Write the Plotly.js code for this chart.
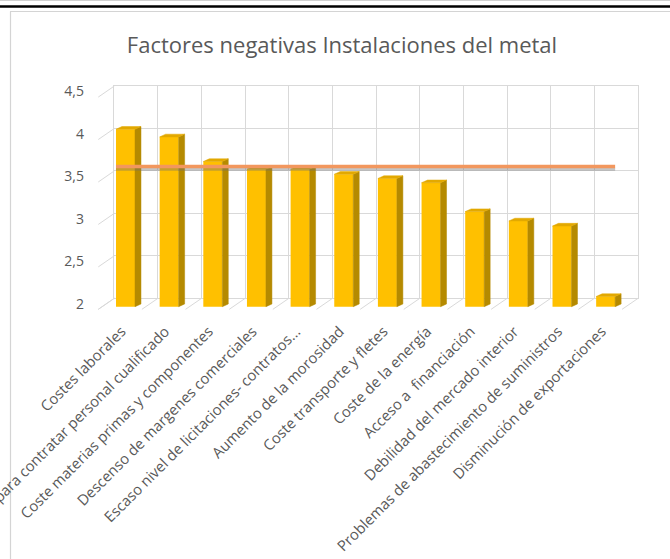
<!DOCTYPE html>
<html>
<head>
<meta charset="utf-8">
<script src="https://cdn.plot.ly/plotly-3.0.1.min.js"></script>
<style>
  html, body { margin: 0; padding: 0; background: #ffffff; }
  #chart { width: 670px; height: 559px; }
</style>
</head>
<body>
<div id="chart"></div>
<script>
// ---------- DATA ----------
const categories = [
  "Costes laborales",
  "Dificultad para contratar personal cualificado",
  "Coste materias primas y componentes",
  "Descenso de margenes comerciales",
  "Escaso nivel de licitaciones- contratos...",
  "Aumento de la morosidad",
  "Coste transporte y fletes",
  "Coste de la energía",
  "Acceso a\u00a0 financiación",
  "Debilidad del mercado interior",
  "Problemas de abastecimiento de suministros",
  "Disminución de exportaciones"
];
const values = [4.09, 4.00, 3.71, 3.62, 3.62, 3.56, 3.51, 3.46, 3.12, 3.01, 2.95, 2.12];
const referenceValue = [3.65];
const yTickValues = [2, 2.5, 3, 3.5, 4, 4.5];
const titleText = "Factores negativas Instalaciones del metal";

// ---------- STYLE / GEOMETRY (pixels -> fractions) ----------
const W = 670, H = 559;
const px = v => v / W;
const py = v => 1 - v / H;
const FONT = "'Open Sans', Lato, sans-serif";
const TXT = "#595959";
const GRID = "#d9d9d9";
const FLOOR = yTickValues[0];

const barWidth = 0.435;          // category units
const hw = barWidth / 2;
const sideDx = 0.137, sideDy = 0.032;     // 3D depth of each column
const backDx = 0.243, backDy = 0.099;     // bar plane -> back wall
const frontDx = -0.367, frontDy = -0.13;  // back wall -> front edge

const idx = categories.map((c, i) => i);

// side faces and top faces of the columns
const sideX = [], sideY = [], topX = [], topY = [];
values.forEach((v, i) => {
  const r = i + hw, l = i - hw;
  sideX.push(r, r, r + sideDx, r + sideDx, r, null);
  sideY.push(FLOOR, v, v + sideDy, FLOOR + sideDy, FLOOR, null);
  topX.push(l, r, r + sideDx, l + sideDx, l, null);
  topY.push(v, v, v + sideDy, v + sideDy, v, null);
});

// floor and side-wall diagonals (perspective grid)
const diagX = [], diagY = [];
for (let k = 0; k <= categories.length; k++) {
  const bx = k - 0.5 + backDx, by = FLOOR + backDy;
  diagX.push(bx, bx + frontDx, null);
  diagY.push(by, by + frontDy, null);
}
yTickValues.forEach(v => {
  const bx = -0.5 + backDx, by = v + backDy;
  diagX.push(bx, bx + frontDx, null);
  diagY.push(by, by + frontDy, null);
});

const lineX = [idx[0] - hw, idx[idx.length - 1] + hw];
const lineY = [referenceValue[0], referenceValue[0]];
const shadowY = lineY.map(v => v - 0.03);

const traces = [
  { type: "scatter", x: [], y: [], xaxis: "x", yaxis: "y", showlegend: false, hoverinfo: "skip" },
  { type: "scatter", mode: "lines", x: diagX, y: diagY, xaxis: "x2", yaxis: "y2",
    line: { color: GRID, width: 1 }, showlegend: false, hoverinfo: "skip" },
  { type: "bar", x: idx, y: values.map(v => v - FLOOR), base: FLOOR, width: barWidth,
    xaxis: "x2", yaxis: "y2", marker: { color: "#FFC000", line: { width: 0 } }, showlegend: false },
  { type: "scatter", mode: "lines", x: sideX, y: sideY, fill: "toself", fillcolor: "#B58A00",
    line: { color: "#B58A00", width: 0.5 }, xaxis: "x2", yaxis: "y2", showlegend: false, hoverinfo: "skip" },
  { type: "scatter", mode: "lines", x: topX, y: topY, fill: "toself", fillcolor: "#E3A900",
    line: { color: "#E3A900", width: 0.5 }, xaxis: "x2", yaxis: "y2", showlegend: false, hoverinfo: "skip" },
  { type: "scatter", mode: "lines", x: lineX, y: shadowY, xaxis: "x2", yaxis: "y2",
    line: { color: "rgba(110,110,110,0.4)", width: 3 }, showlegend: false, hoverinfo: "skip" },
  { type: "scatter", mode: "lines", x: lineX, y: lineY, xaxis: "x2", yaxis: "y2",
    line: { color: "#F2975E", width: 3.5 }, showlegend: false }
];

const layout = {
  width: W, height: H,
  margin: { l: 0, r: 0, t: 0, b: 0, pad: 0 },
  paper_bgcolor: "#ffffff",
  plot_bgcolor: "rgba(0,0,0,0)",
  separators: ",.",
  showlegend: false,
  font: { family: FONT, color: TXT, size: 13 },
  title: {
    text: titleText,
    x: px(342), xanchor: "center",
    y: py(45), yanchor: "middle", yref: "container",
    font: { family: FONT, size: 22, color: TXT }
  },
  xaxis: {
    domain: [px(114.3), px(638.3)], range: [-0.5, 11.5], anchor: "y",
    tickmode: "linear", tick0: -0.5, dtick: 1,
    showgrid: true, gridcolor: GRID, gridwidth: 1,
    showline: true, mirror: true, linecolor: GRID, linewidth: 1,
    zeroline: false, showticklabels: false, ticks: "", automargin: false, fixedrange: true
  },
  yaxis: {
    domain: [py(298.3), py(86)], range: [2, 4.5], anchor: "x",
    tickmode: "linear", tick0: 2, dtick: 0.5,
    showgrid: true, gridcolor: GRID, gridwidth: 1,
    showline: true, mirror: true, linecolor: GRID, linewidth: 1,
    zeroline: false, showticklabels: false, ticks: "", automargin: false, fixedrange: true
  },
  xaxis2: {
    domain: [px(96), px(640)], range: [-0.676, 11.787], anchor: "y2",
    tickmode: "array", tickvals: idx, ticktext: categories, tickangle: -45,
    tickfont: { family: FONT, size: 14.8, color: TXT },
    ticklabeloverflow: "allow", ticklabelstandoff: 7, ticklabelshift: -4,
    showgrid: false, zeroline: false, showline: false, ticks: "", automargin: false, fixedrange: true
  },
  yaxis2: {
    domain: [py(312), py(84)], range: [1.9376, 4.623], anchor: "x2",
    tickmode: "array", tickvals: yTickValues,
    tickfont: { family: FONT, size: 14, color: TXT },
    ticklabelshift: -3, ticklabelstandoff: 11,
    showgrid: false, zeroline: false, showline: false, ticks: "", automargin: false, fixedrange: true
  },
  shapes: [
    { type: "line", xref: "paper", yref: "paper", x0: 0, x1: 1, y0: py(0.5), y1: py(0.5),
      line: { color: "#d0d0d0", width: 1 } },
    { type: "line", xref: "paper", yref: "paper", x0: 0, x1: 1, y0: py(6.5), y1: py(6.5),
      line: { color: "#000000", width: 2.5 } },
    { type: "line", xref: "paper", yref: "paper", x0: px(10), x1: 1, y0: py(11.5), y1: py(11.5),
      line: { color: "#d4d4d4", width: 1.2 }, layer: "below" },
    { type: "line", xref: "paper", yref: "paper", x0: px(10.5), x1: px(10.5), y0: py(11.5), y1: 0,
      line: { color: "#d4d4d4", width: 1.2 }, layer: "below" }
  ]
};

Plotly.newPlot("chart", traces, layout, { displayModeBar: false, staticPlot: true });
</script>
</body>
</html>
